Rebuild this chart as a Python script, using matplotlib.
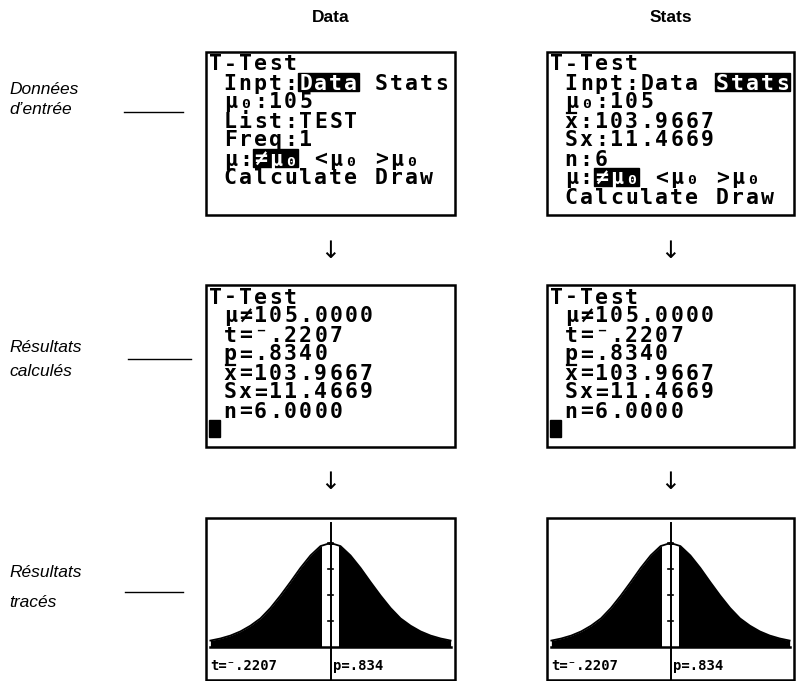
import matplotlib.pyplot as plt
from matplotlib.patches import Rectangle

# column headers and row labels
headers = ['Data', 'Stats']
row_labels = [['Données', 'd\u2019entrée'], ['Résultats', 'calculés'], ['Résultats', 'tracés']]

# calculator screens (16 columns x 8 rows)
input_data = ['T-Test', ' Inpt:Data Stats', ' μ₀:105', ' List:TEST', ' Freq:1',
              ' μ:≠μ₀ <μ₀ >μ₀', ' Calculate Draw', '']
input_stats = ['T-Test', ' Inpt:Data Stats', ' μ₀:105', ' x:103.9667', ' Sx:11.4669',
               ' n:6', ' μ:≠μ₀ <μ₀ >μ₀', ' Calculate Draw']
results = ['T-Test', ' μ≠105.0000', ' t=⁻.2207', ' p=.8340', ' x=103.9667',
           ' Sx=11.4669', ' n=6.0000', '']
# highlighted cells: (row, first col, n cols)
hl_data = [(1, 6, 4), (5, 3, 3)]
hl_stats = [(1, 11, 5), (6, 3, 3)]
xbar_stats = [(3, 1)]
xbar_results = [(4, 1)]

# t distribution drawing, relative height
t_x = [-3.0, -2.75, -2.5, -2.25, -2.0, -1.75, -1.5, -1.25, -1.0, -0.75, -0.5, -0.25, 0.0,
       0.25, 0.5, 0.75, 1.0, 1.25, 1.5, 1.75, 2.0, 2.25, 2.5, 2.75, 3.0]
t_h = [0.062, 0.082, 0.11, 0.15, 0.205, 0.275, 0.375, 0.495, 0.625, 0.76, 0.88, 0.97, 1.0,
       0.97, 0.88, 0.76, 0.625, 0.495, 0.375, 0.275, 0.205, 0.15, 0.11, 0.082, 0.062]
t_stat = 0.2207
y_ticks = [0.25, 0.5, 0.75, 1.0]
graph_labels = ['t=⁻.2207', 'p=.834']

W, H = 796, 681
fig = plt.figure(figsize=(W / 100, H / 100), dpi=100)
ax = fig.add_axes([0, 0, 1, 1])
ax.set_xlim(0, W)
ax.set_ylim(H, 0)
ax.axis('off')

mono = ['DejaVu Sans Mono', 'DejaVu Sans']
cw, rh = 15.1, 19.0
fs = 15.5


def screen(x0, y0, x1, y1, rows, hls=(), bars=(), cursor=False):
    ax.add_patch(Rectangle((x0, y0), x1 - x0, y1 - y0, fill=False, ec='black', lw=1.8))
    gx, gy = x0 + 1.5, y0 + 2
    hl_cells = {(r, c) for r, c0, n in hls for c in range(c0, c0 + n)}
    # one character per calculator cell
    for r, line in enumerate(rows):
        for c, ch in enumerate(line):
            if ch != ' ':
                col = 'white' if (r, c) in hl_cells else 'black'
                ax.text(gx + (c + 0.5) * cw, gy + r * rh + 16.5, ch, family=mono, fontsize=fs,
                        weight='bold', va='baseline', ha='center', color=col, zorder=4)
    for r, c, n in hls:
        ax.add_patch(Rectangle((gx + c * cw, gy + r * rh), n * cw, 17.5, color='black', zorder=3))
    for r, c in bars:
        ax.plot([gx + c * cw + 3, gx + c * cw + 12], [gy + r * rh + 1.5] * 2, color='black', lw=1.6)
    if cursor:
        ax.add_patch(Rectangle((gx + 1.5, gy + 7 * rh), 11, 17, color='black'))


def graph(x0, y0, x1, y1):
    ax.add_patch(Rectangle((x0, y0), x1 - x0, y1 - y0, fill=False, ec='black', lw=1.8))
    g = fig.add_axes([x0 / W, 1 - y1 / H, (x1 - x0) / W, (y1 - y0) / H])
    g.set_xlim(-3.11, 3.11)
    g.set_ylim(-0.317, 1.24)
    g.axis('off')
    g.patch.set_alpha(0)
    g.fill_between(t_x, 0, t_h, color='black', lw=0)
    g.fill_between([-t_stat, t_stat], 0, [0.985, 0.985], color='white', lw=0)
    g.plot(t_x, t_h, color='black', lw=1.3)
    g.plot([-3.0, 3.0], [0, 0], color='black', lw=1.8)
    g.plot([0, 0], [-0.4, 1.19], color='black', lw=1.4)
    for yt in y_ticks:
        g.plot([-0.07, 0.07], [yt, yt], color='black', lw=1.2)
    xc = (x0 + x1) / 2
    ax.text(x0 + 4, 670, graph_labels[0], family=mono, weight='bold', fontsize=10,
            va='baseline', ha='left')
    ax.text(xc + 3, 670, graph_labels[1], family=mono, weight='bold', fontsize=10,
            va='baseline', ha='left')


cols = [(206, 455), (547, 794)]
screen(cols[0][0], 52, cols[0][1], 215, input_data, hl_data)
screen(cols[1][0], 52, cols[1][1], 215, input_stats, hl_stats, xbar_stats)
for x0, x1 in cols:
    screen(x0, 285, x1, 447, results, bars=xbar_results, cursor=True)
    graph(x0, 518, x1, 680)

sans = ['Liberation Sans', 'DejaVu Sans']
for (x0, x1), name in zip(cols, headers):
    xc = (x0 + x1) / 2
    ax.text(xc, 22, name, family=sans, weight='bold', fontsize=12.5, ha='center', va='baseline')
    ax.text(xc, 251, '↓', family=['DejaVu Sans'], fontsize=17, ha='center', va='center')
    ax.text(xc, 482, '↓', family=['DejaVu Sans'], fontsize=17, ha='center', va='center')

label_y = [(94, 114, 112, 124, 183), (352, 376, 359, 128, 191), (577, 607, 592, 125, 183)]
for (a, b), (ya, yb, yl, l0, l1) in zip(row_labels, label_y):
    ax.text(9, ya, a, family=sans, style='italic', fontsize=12.5, va='baseline')
    ax.text(9, yb, b, family=sans, style='italic', fontsize=12.5, va='baseline')
    ax.plot([l0, l1], [yl, yl], color='black', lw=1)

fig.savefig('out.png', dpi=100)
